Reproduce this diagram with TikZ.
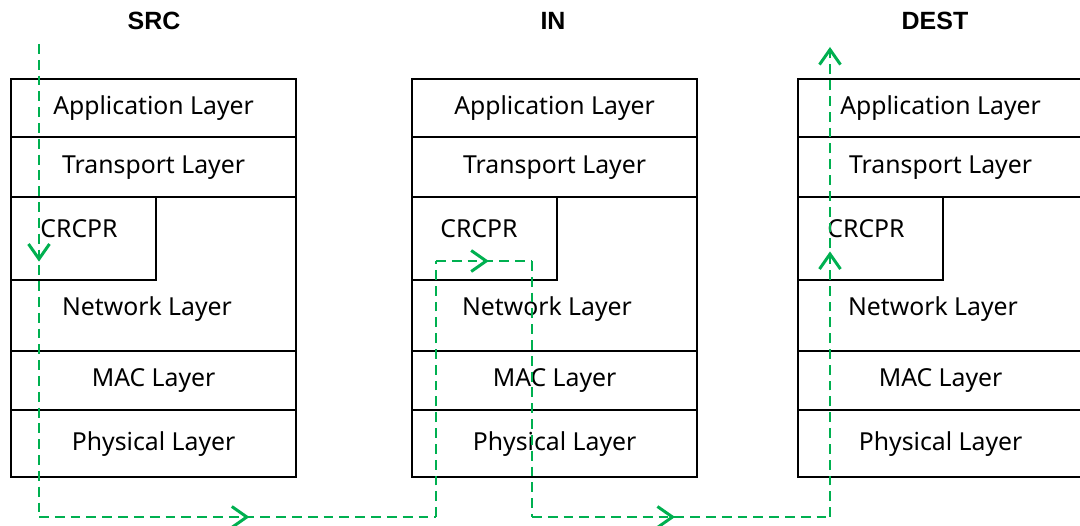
\documentclass[tikz,border=0pt]{standalone}
\usepackage{fontspec}
\setmainfont{Noto Sans}
\newfontfamily\ttlfont{Liberation Sans}
\usetikzlibrary{arrows.meta,decorations.markings}

\definecolor{routegreen}{RGB}{0,176,80}

\begin{document}
\begin{tikzpicture}[
  x=0.02cm, y=-0.02cm,
  font=\fontsize{14.1}{16}\selectfont,
  every node/.style={inner sep=0pt},
  layer/.style={
    draw=black, fill=white, line width=1.3pt,
    minimum width=5.7cm, anchor=north west, align=center,
  },
  crc/.style={layer, minimum width=2.9cm, minimum height=1.66cm},
  ttl/.style={font=\ttlfont\fontsize{14.2}{16}\selectfont\bfseries},
  route/.style={draw=routegreen, line width=1.7pt, dash pattern=on 5.6pt off 3.4pt},
  midtip/.style={postaction={decorate, decoration={markings,
    mark=at position #1 with {\arrow[solid]{Straight Barb[length=3mm, width=4.2mm]}}}}},
]
\useasboundingbox (0,0) rectangle (1080,526);
\clip (0,0) rectangle (1080,526);

% ===== TITLES =====
\node[ttl] (srcttl) at (154,21) {SRC};
\node[ttl] (inttl)  at (553,21) {IN};
\node[ttl] (dstttl) at (935,21) {DEST};

% ===== SRC STACK (x=10) =====
\node[layer, minimum height=1.16cm] (srcapp)   at (10,78)  {Application Layer};
\node[layer, minimum height=1.2cm]  (srctrans) at (10,136) {Transport Layer};
\node[layer, minimum height=3.08cm] (srcnet)   at (10,196) {};
\node[layer, minimum height=1.18cm] (srcmac)   at (10,350) {MAC Layer};
\node[layer, minimum height=1.34cm] (srcphy)   at (10,409) {Physical Layer};
\node[crc] (srccrc) at (10,196) {};
\node (srccrclbl) at (79,229)  {CRCPR};
\node (srcnetlbl) at (147,309) {Network Layer};

% ===== IN STACK (x=411) =====
\node[layer, minimum height=1.16cm] (inapp)   at (411,78)  {Application Layer};
\node[layer, minimum height=1.2cm]  (intrans) at (411,136) {Transport Layer};
\node[layer, minimum height=3.08cm] (innet)   at (411,196) {};
\node[layer, minimum height=1.18cm] (inmac)   at (411,350) {MAC Layer};
\node[layer, minimum height=1.34cm] (inphy)   at (411,409) {Physical Layer};
\node[crc] (incrc) at (411,196) {};
\node (incrclbl) at (479,229) {CRCPR};
\node (innetlbl) at (547,309) {Network Layer};

% ===== DEST STACK (x=797) =====
\node[layer, minimum height=1.16cm] (dstapp)   at (797,78)  {Application Layer};
\node[layer, minimum height=1.2cm]  (dsttrans) at (797,136) {Transport Layer};
\node[layer, minimum height=3.08cm] (dstnet)   at (797,196) {};
\node[layer, minimum height=1.18cm] (dstmac)   at (797,350) {MAC Layer};
\node[layer, minimum height=1.34cm] (dstphy)   at (797,409) {Physical Layer};
\node[crc] (dstcrc) at (797,196) {};
\node (dstcrclbl) at (866,229) {CRCPR};
\node (dstnetlbl) at (933,309) {Network Layer};

% ===== PACKET ROUTE =====
\coordinate (start)  at (39,44);
\coordinate (srcbot) at (39,517);
\coordinate (inlow)  at (436,517);
\coordinate (inup)   at (436,261);
\coordinate (inturn) at (532,261);
\coordinate (inout)  at (532,517);
\coordinate (dstbot) at (830,517);
\coordinate (finish) at (830,47);

\draw[route, midtip=0.46] (start) -- (srcbot);
\draw[route, midtip=0.53] (srcbot) -- (inlow);
\draw[route] (inlow) -- (inup);
\draw[route, midtip=0.55] (inup) -- (inturn);
\draw[route] (inturn) -- (inout);
\draw[route, midtip=0.48] (inout) -- (dstbot);
\draw[route, midtip=0.565, -{Straight Barb[length=3mm, width=4.2mm]}] (dstbot) -- (finish);

\end{tikzpicture}
\end{document}
